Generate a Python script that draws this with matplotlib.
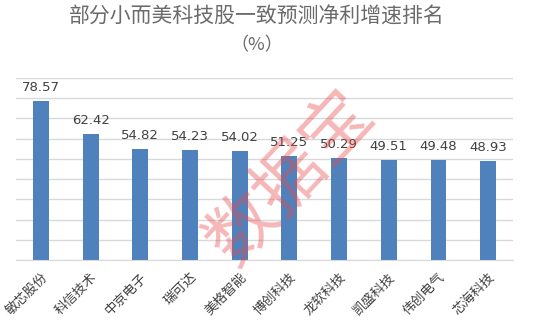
import matplotlib
matplotlib.use("Agg")
import matplotlib.pyplot as plt

plt.rcParams["font.family"] = ["Noto Sans CJK SC", "DejaVu Sans"]

names = ["敏芯股份", "科信技术", "中京电子", "瑞可达", "美格智能",
         "博创科技", "龙软科技", "凯盛科技", "伟创电气", "芯海科技"]
growth = [78.57, 62.42, 54.82, 54.23, 54.02, 51.25, 50.29, 49.51, 49.48, 48.93]

fig = plt.figure(figsize=(5.54, 3.30), dpi=100)
ax = fig.add_axes([0.029, 0.212, 0.897, 0.552])

x = range(len(names))
bars = ax.bar(x, growth, width=0.32, color="#4f81bd", zorder=2)

for i, v in enumerate(growth):
    ax.annotate(f"{v:.2f}", (i, v), xytext=(0, 5), textcoords="offset points",
                ha="center", va="bottom", fontsize=9.5, color="#404040",
                family=["DejaVu Sans"])

ax.set_ylim(0, 90)
ax.set_xlim(-0.5, len(names) - 0.5)
ax.set_yticks(range(0, 91, 10))
ax.yaxis.grid(True, color="#d9d9d9", linewidth=1, zorder=0)
ax.set_axisbelow(True)
ax.tick_params(axis="y", left=False, labelleft=False)
ax.tick_params(axis="x", bottom=False, pad=4)
for s in ["top", "right", "left"]:
    ax.spines[s].set_visible(False)
ax.spines["bottom"].set_color("#d9d9d9")

ax.set_xticks(list(x))
ax.set_xticklabels(names, rotation=45, ha="right", rotation_mode="anchor",
                   fontsize=9.5, color="#404040")

fig.text(0.464, 0.948, "部分小而美科技股一致预测净利增速排名", ha="center",
         va="center", fontsize=15, color="#6a6a6a")
fig.text(0.464, 0.862, "（%）", ha="center", va="center", fontsize=13,
         color="#6a6a6a")

# watermark
fig.text(0.525, 0.46, "数据宝", ha="center", va="center", fontsize=50,
         color="#e84a4a", alpha=0.4, rotation=47)

fig.savefig("out.png", dpi=100)
